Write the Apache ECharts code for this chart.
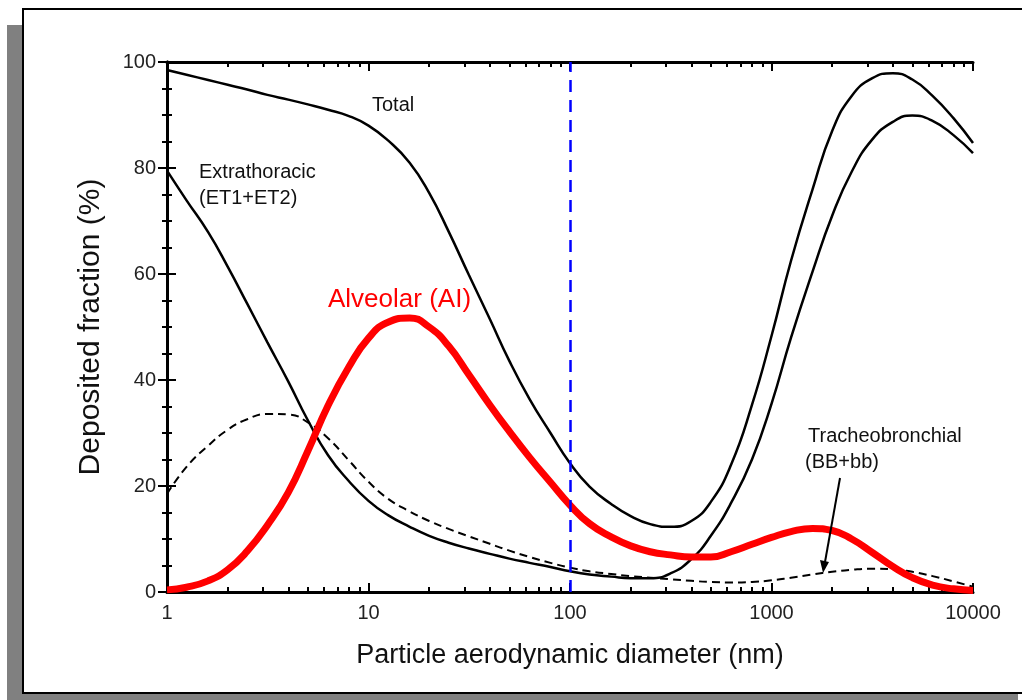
<!DOCTYPE html>
<html>
<head>
<meta charset="utf-8">
<script src="https://cdn.jsdelivr.net/npm/echarts@6/dist/echarts.min.js"></script>
<style>
html, body { margin: 0; padding: 0; background: #fff; }
#main { width: 1022px; height: 700px; }
</style>
</head>
<body>
<div id="main"></div>
<script>
// particle diameter (nm), ten steps per decade
var diameters = [1, 1.25, 1.6, 2, 2.5, 3.15, 4, 5, 6.3, 8,
	10, 12.5, 16, 20, 25, 31.5, 40, 50, 63, 80,
	100, 125, 160, 200, 250, 315, 400, 500, 630, 800,
	1000, 1250, 1600, 2000, 2500, 3150, 4000, 5000, 6300, 8000, 10000];
// deposited fraction (%)
var total = [98.5, 97.6, 96.6, 95.7, 94.8, 93.8, 92.9, 92.0, 91.0, 89.8,
	88.0, 85.2, 81.0, 75.3, 68.0, 59.8, 51.5, 43.6, 36.4, 30.0,
	24.3, 19.9, 16.6, 14.3, 12.8, 12.3, 13.4, 17.0, 24.0, 35.3,
	48.3, 62.5, 76.0, 87.0, 93.6, 96.9, 97.9, 96.7, 93.6, 89.4, 84.7];
var extrathoracic = [79.5, 73.9, 67.9, 61.4, 54.4, 47.1, 39.7, 32.4, 25.8, 20.9,
	17.2, 14.5, 12.3, 10.6, 9.3, 8.2, 7.2, 6.3, 5.5, 4.7,
	3.9, 3.3, 2.9, 2.6, 2.6, 3.5, 6.2, 10.6, 16.8, 25.0,
	35.5, 48.0, 60.5, 71.0, 79.3, 85.3, 88.7, 89.9, 88.9, 86.2, 82.8];
var alveolar = [0.4, 0.9, 2.1, 4.2, 7.7, 12.6, 18.8, 26.6, 35.2, 42.5,
	47.9, 50.9, 51.7, 50.0, 46.4, 41.0, 35.3, 30.3, 25.4, 20.7,
	16.4, 12.9, 10.4, 8.7, 7.6, 7.0, 6.6, 6.6, 7.6, 9.0,
	10.3, 11.4, 12.0, 11.6, 10.0, 7.5, 4.8, 2.7, 1.3, 0.6, 0.3];
var tracheo = [18.5, 23.6, 27.6, 30.6, 32.6, 33.6, 33.5, 32.0, 29.0, 24.8,
	20.8, 17.6, 15.2, 13.4, 11.9, 10.5, 9.1, 7.8, 6.6, 5.5,
	4.6, 3.9, 3.4, 3.0, 2.7, 2.4, 2.1, 1.9, 1.8, 1.9,
	2.2, 2.7, 3.3, 3.8, 4.2, 4.4, 4.3, 3.8, 3.0, 2.0, 1.0];
var cutoff = 100;
var xTicks = [1, 10, 100, 1000, 10000];
var yTicks = [0, 20, 40, 60, 80, 100];

var FONT = "'Liberation Sans', Arial, sans-serif";

function lg(d) { return Math.log10(d); }
function pairs(ys) {
	return diameters.map(function(d, i) { return [lg(d), ys[i]]; });
}
// minor log ticks 2..9 in each decade
var minorTicks = [];
for (var k = 0; k < xTicks.length - 1; k++) {
	for (var m = 2; m <= 9; m++) {
		minorTicks.push(lg(m * xTicks[k]));
	}
}

var axisLine = { show: true, lineStyle: { color: '#000', width: 3 } };
var majorTick = { show: true, inside: true, length: 9, lineStyle: { color: '#000', width: 2 } };
var minorTickX = { show: true, inside: true, length: 5, lineStyle: { color: '#000', width: 2 }, customValues: minorTicks };

function xAxisDef(pos, minor) {
	return {
		type: 'value', position: pos,
		min: lg(xTicks[0]), max: lg(xTicks[xTicks.length - 1]), interval: 1,
		axisLine: minor ? { show: false } : axisLine,
		axisTick: minor ? minorTickX : majorTick,
		axisLabel: { show: false },
		splitLine: { show: false }
	};
}

var xMain = xAxisDef('bottom', false);
xMain.axisLabel = {
	show: true, fontSize: 20, color: '#222', fontFamily: FONT, margin: 11,
	formatter: function(v) { return String(Math.round(Math.pow(10, v))); }
};
xMain.name = 'Particle aerodynamic diameter (nm)';
xMain.nameLocation = 'middle';
xMain.nameGap = 50;
xMain.nameTextStyle = { fontSize: 27, color: '#111', fontFamily: FONT };

function yAxisDef(pos, labels) {
	var a = {
		type: 'value', position: pos,
		min: yTicks[0], max: yTicks[yTicks.length - 1], interval: 20,
		axisLine: axisLine,
		axisTick: majorTick,
		minorTick: { show: true, splitNumber: 4, length: 5, lineStyle: { color: '#000', width: 2 } },
		axisLabel: { show: labels, fontSize: 20, color: '#222', fontFamily: FONT, margin: 11 },
		splitLine: { show: false },
		minorSplitLine: { show: false }
	};
	if (labels) {
		a.name = 'Deposited fraction (%)';
		a.nameLocation = 'middle';
		a.nameGap = 61;
		a.nameRotate = 90;
		a.nameTextStyle = { fontSize: 30, color: '#111', fontFamily: FONT };
	}
	return a;
}

var mychart = echarts.init(document.getElementById('main'), null, { renderer: 'canvas' });
var option = {
	animation: false,
	backgroundColor: '#fff',
	grid: { left: 167, right: 49, top: 62, bottom: 108, containLabel: false },
	xAxis: [xMain, xAxisDef('bottom', true), xAxisDef('top', false), xAxisDef('top', true)],
	yAxis: [yAxisDef('left', true), yAxisDef('right', false)],
	graphic: [
		{ type: 'rect', z: -20, silent: true, shape: { x: 7, y: 25, width: 1011, height: 680 }, style: { fill: '#808080' } },
		{ type: 'rect', z: -19, silent: true, shape: { x: 23, y: 9, width: 1000, height: 684 }, style: { fill: '#fff', stroke: '#000', lineWidth: 2 } },
		{ type: 'text', z: 50, left: 372, top: 95, style: { text: 'Total', fontSize: 20, fontFamily: FONT, fill: '#111' } },
		{ type: 'text', z: 50, left: 199, top: 159, style: { text: 'Extrathoracic\n(ET1+ET2)', fontSize: 20, lineHeight: 26, fontFamily: FONT, fill: '#111' } },
		{ type: 'text', z: 50, left: 328, top: 287, style: { text: 'Alveolar (AI)', fontSize: 26, fontFamily: FONT, fill: '#ff0000' } },
		{ type: 'text', z: 50, left: 808, top: 426, style: { text: 'Tracheobronchial', fontSize: 20, fontFamily: FONT, fill: '#111' } },
		{ type: 'text', z: 50, left: 805, top: 452, style: { text: '(BB+bb)', fontSize: 20, fontFamily: FONT, fill: '#111' } },
		{ type: 'line', z: 50, silent: true, shape: { x1: 840, y1: 478, x2: 825, y2: 562 }, style: { stroke: '#000', lineWidth: 2 } },
		{ type: 'polygon', z: 50, silent: true, shape: { points: [[823, 573], [820, 560], [829, 562]] }, style: { fill: '#000' } }
	],
	series: [
		{
			name: 'Total', type: 'line', data: pairs(total), smooth: 0.5, symbol: 'none',
			lineStyle: { color: '#000', width: 2.5 },
			markLine: {
				silent: true, symbol: 'none', label: { show: false },
				lineStyle: { color: '#0000ff', width: 2.5, type: [12, 8] },
				data: [{ xAxis: lg(cutoff) }]
			}
		},
		{
			name: 'Extrathoracic', type: 'line', data: pairs(extrathoracic), smooth: 0.5, symbol: 'none',
			lineStyle: { color: '#000', width: 2.5 }
		},
		{
			name: 'Tracheobronchial', type: 'line', data: pairs(tracheo), smooth: 0.5, symbol: 'none',
			lineStyle: { color: '#000', width: 2, type: [8, 5] }
		},
		{
			name: 'Alveolar', type: 'line', data: pairs(alveolar), smooth: 0.5, symbol: 'none',
			lineStyle: { color: '#ff0000', width: 7 }
		}
	]
};
mychart.setOption(option);
</script>
</body>
</html>
